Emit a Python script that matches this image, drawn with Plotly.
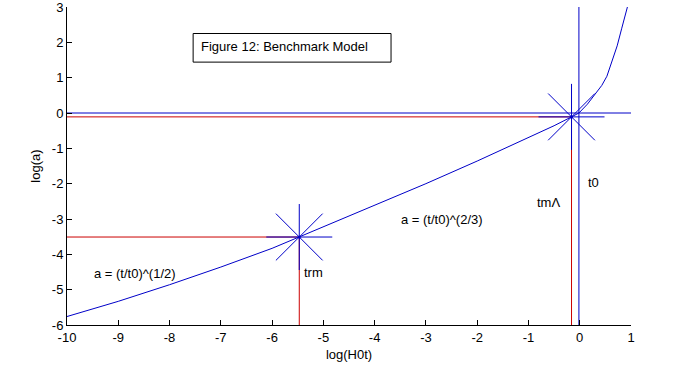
import plotly.graph_objects as go

# ---- data ----
log_H0t = [-10, -9, -8, -7, -6, -5.47, -5, -4, -3, -2, -1, -0.5, -0.16, -0.016,
           0.15, 0.3, 0.43, 0.53, 0.63, 0.73, 0.82, 0.93]
log_a = [-5.76, -5.33, -4.86, -4.36, -3.83, -3.51, -3.22, -2.62, -2.00, -1.36, -0.70,
         -0.36, -0.11, 0.0, 0.25, 0.52, 0.78, 1.04, 1.45, 1.9, 2.4, 3.0]

# characteristic epochs: (log H0t, log a)
t_rm = (-5.47, -3.51)      # radiation-matter equality
t_mL = (-0.16, -0.11)      # matter-lambda equality
t_0 = (-0.016, 0.0)        # today

x_ticks = [-10, -9, -8, -7, -6, -5, -4, -3, -2, -1, 0, 1]
x_tick_labels = ["-10", "-9", "-8", "-7", "-6", "-5", "-4", "-3", "-2", "-1", "0", "1"]
y_ticks = [-6, -5, -4, -3, -2, -1, 0, 1, 2, 3]
y_tick_labels = ["-6", "-5", "-4", "-3", "-2", "-1", "0", "1", "2", "3"]

x_range = [-10, 1]
y_range = [-6, 3]

BLUE = "#0000c8"
RED = "#cc0000"
FONT = "Liberation Sans, Arial, sans-serif"

fig = go.Figure()

# red guide lines to the two equality epochs
for (px, py) in (t_rm, t_mL):
    fig.add_trace(go.Scatter(x=[x_range[0], px], y=[py, py], mode="lines",
                             line=dict(color=RED, width=1), hoverinfo="skip"))
    fig.add_trace(go.Scatter(x=[px, px], y=[y_range[0], py], mode="lines",
                             line=dict(color=RED, width=1), hoverinfo="skip"))

# blue cross at today
fig.add_trace(go.Scatter(x=[t_0[0], t_0[0]], y=y_range, mode="lines",
                         line=dict(color=BLUE, width=1), hoverinfo="skip"))
fig.add_trace(go.Scatter(x=x_range, y=[t_0[1], t_0[1]], mode="lines",
                         line=dict(color=BLUE, width=1), hoverinfo="skip"))

# scale factor curve
fig.add_trace(go.Scatter(x=log_H0t, y=log_a, mode="lines",
                         line=dict(color=BLUE, width=1), hoverinfo="skip"))

# star markers at the equality epochs
fig.add_trace(go.Scatter(x=[t_rm[0], t_mL[0]], y=[t_rm[1], t_mL[1]], mode="markers",
                         marker=dict(symbol="asterisk-open", size=55, color=BLUE,
                                     line=dict(color=BLUE, width=1)),
                         hoverinfo="skip"))
fig.add_trace(go.Scatter(x=[t_rm[0], t_mL[0]], y=[t_rm[1], t_mL[1]], mode="markers",
                         marker=dict(symbol="circle", size=3, color=BLUE),
                         hoverinfo="skip"))

# title box
fig.add_shape(type="rect", x0=-7.54, x1=-3.68, y0=1.44, y1=2.25,
              line=dict(color="black", width=1), fillcolor="white", layer="above")

tf = dict(family=FONT, size=13, color="black")
ann = [
    dict(x=-7.42, y=1.88, text="Figure 12: Benchmark Model", xanchor="left"),
    dict(x=-9.51, y=-4.53, text="a = (t/t0)^(1/2)", xanchor="left"),
    dict(x=-3.52, y=-3.02, text="a = (t/t0)^(2/3)", xanchor="left"),
    dict(x=-5.42, y=-4.52, text="trm", xanchor="left"),
    dict(x=-0.35, y=-2.53, text="tmΛ", xanchor="right"),
    dict(x=0.127, y=-1.98, text="t0", xanchor="left"),
]
for a in ann:
    fig.add_annotation(xref="x", yref="y", yanchor="middle", showarrow=False,
                       font=tf, **a)

axis_common = dict(showgrid=False, zeroline=False, showline=True, linecolor="black",
                   linewidth=1, ticks="inside", ticklen=5, tickcolor="black",
                   tickfont=dict(family=FONT, size=13, color="black"), mirror=False,
                   automargin=False, ticklabeloverflow="allow")

fig.update_layout(
    width=677, height=382,
    margin=dict(l=67, r=46, t=7, b=57),
    paper_bgcolor="white", plot_bgcolor="white",
    showlegend=False, hovermode=False,
    xaxis=dict(range=x_range, tickvals=x_ticks, ticktext=x_tick_labels,
               title=dict(text="log(H0t)", font=dict(family=FONT, size=13, color="black"),
                          standoff=6),
               **axis_common),
    yaxis=dict(range=y_range, tickvals=y_ticks, ticktext=y_tick_labels,
               title=dict(text="log(a)", font=dict(family=FONT, size=13, color="black"),
                          standoff=8),
               **axis_common),
)

fig.write_html("out.html", config={"displayModeBar": False},
               post_script="document.body.style.margin='0';document.body.style.overflow='hidden';")
